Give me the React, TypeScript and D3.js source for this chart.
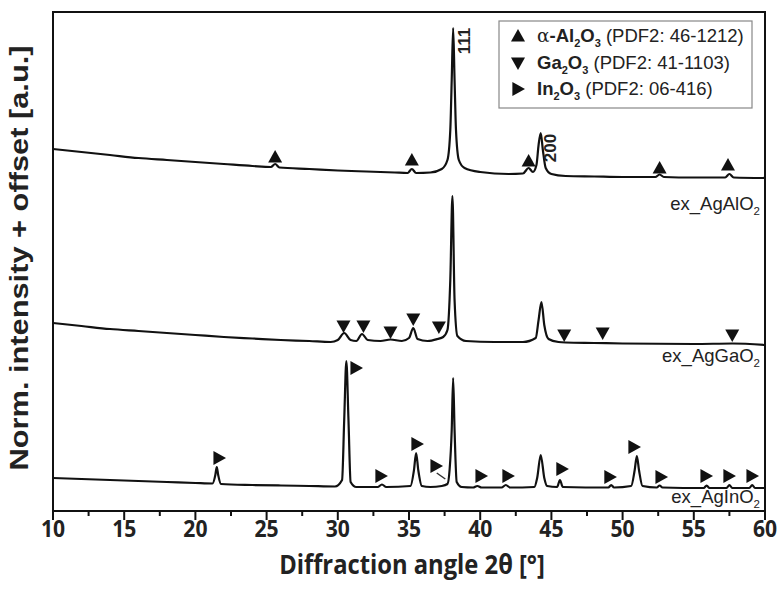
import React from "react";
import * as d3 from "d3";

// ---- data (angle in degrees 2θ, intensity + offset in arbitrary units) ----
const agAlO2: [number, number][] = [
  [10, 362], [12, 359], [14, 356], [16, 353], [18, 351], [20, 349], [22, 347], [24, 345],
  [25.3, 344], [25.6, 347], [25.9, 343.5], [28, 342], [30, 340.5], [32, 339.5], [34, 338.5],
  [34.9, 338], [35.2, 342], [35.5, 338], [36.5, 338.5], [37.3, 342], [37.7, 351], [37.9, 381],
  [38.0, 431], [38.1, 483], [38.2, 431], [38.3, 381], [38.5, 351], [38.9, 343], [40, 339],
  [42, 337], [43.0, 337.5], [43.4, 343], [43.7, 339], [43.95, 346], [44.1, 366], [44.25, 378],
  [44.4, 361], [44.6, 343], [45, 337], [46, 335], [48, 334.5], [50, 334], [52.3, 334],
  [52.6, 336.5], [52.9, 334], [55, 333.5], [57.2, 333.5], [57.5, 337], [57.8, 333.5], [60, 333],
];

const agGaO2: [number, number][] = [
  [10, 188], [12, 185], [14, 182], [16, 180], [18, 178], [20, 176], [22, 174], [24, 172.5],
  [26, 171], [28, 170], [29.5, 169], [30.0, 171], [30.45, 178], [30.9, 171], [31.3, 170],
  [31.7, 177], [32.1, 171], [33, 170], [33.7, 171.5], [34.5, 170], [35.0, 173], [35.3, 183],
  [35.6, 172], [36.3, 170], [37.0, 172], [37.4, 174], [37.7, 181], [37.9, 231], [38.05, 315],
  [38.2, 211], [38.4, 175], [39, 170], [41, 169], [43, 169], [43.9, 173], [44.1, 191],
  [44.3, 209], [44.5, 186], [44.8, 172], [45.5, 169], [46, 168.5], [48, 168], [50, 167.5],
  [55, 167], [57.7, 167.5], [60, 166],
];

const agInO2: [number, number][] = [
  [10, 33], [12, 32], [14, 31], [16, 30], [18, 29], [20, 28], [21.2, 27.5], [21.4, 36],
  [21.5, 44], [21.6, 36], [21.8, 27], [24, 26], [26, 25.5], [28, 25], [29.8, 24.5], [30.3, 31],
  [30.45, 91], [30.6, 150], [30.75, 91], [30.9, 29], [31.3, 24], [32.8, 24], [33.1, 26.5],
  [33.4, 24], [35.1, 25], [35.35, 41], [35.5, 58], [35.65, 41], [35.9, 25], [36.5, 24],
  [37.3, 25], [37.7, 27], [37.85, 41], [38.0, 81], [38.1, 133], [38.2, 81], [38.35, 29],
  [38.7, 24], [39.5, 23.5], [39.8, 25], [40.1, 23.5], [41.5, 23.5], [41.8, 26], [42.1, 23.5],
  [43.8, 24], [44.0, 33], [44.25, 56], [44.5, 33], [44.7, 25], [45.4, 24], [45.6, 31],
  [45.8, 24], [49.0, 23.5], [49.2, 26], [49.4, 23.5], [50.6, 25], [50.85, 41], [51.0, 55],
  [51.15, 41], [51.4, 25], [52.4, 23.5], [52.6, 25.5], [52.8, 23.5], [55.7, 23], [55.9, 25.5],
  [56.1, 23], [57.3, 23], [57.5, 26], [57.7, 23], [58.9, 23], [59.1, 26], [59.3, 23], [60, 23],
];

// reference markers: [angle, level]
const al2o3Marks: [number, number][] = [[25.6, 354], [35.2, 351], [43.4, 350], [52.6, 343], [57.4, 346]];
const ga2o3Marks: [number, number][] = [
  [30.4, 185], [31.8, 185], [33.7, 179], [35.3, 192], [37.1, 184], [45.9, 176], [48.6, 178], [57.7, 176],
];
const in2o3Marks: [number, number][] = [
  [21.66, 53], [31.28, 143], [33.03, 35], [35.56, 67], [36.9, 45], [40.06, 35], [41.95, 35],
  [45.74, 42], [49.11, 34], [50.8, 64], [52.7, 34], [55.86, 35], [57.47, 35], [59.09, 35],
];

const xTicks = [10, 15, 20, 25, 30, 35, 40, 45, 50, 55, 60];
const xMinorTicks = [12.5, 17.5, 22.5, 27.5, 32.5, 37.5, 42.5, 47.5, 52.5, 57.5];

const W = 780;
const H = 592;
const M = { left: 53, right: 765, top: 12, bottom: 511 };

export default function App() {
  const x = d3.scaleLinear().domain([10, 60]).range([M.left, M.right]);
  const y = d3.scaleLinear().domain([0, 499]).range([M.bottom, M.top]);
  const line = d3
    .line<[number, number]>()
    .x((d) => x(d[0]))
    .y((d) => y(d[1]))
    .curve(d3.curveMonotoneX);

  const tri = (cx: number, cy: number, dir: "up" | "down" | "right", s = 7) => {
    if (dir === "up") return `M${cx},${cy - s}L${cx + s},${cy + s * 0.8}L${cx - s},${cy + s * 0.8}Z`;
    if (dir === "down") return `M${cx},${cy + s}L${cx + s},${cy - s * 0.8}L${cx - s},${cy - s * 0.8}Z`;
    return `M${cx + s},${cy}L${cx - s * 0.8},${cy - s}L${cx - s * 0.8},${cy + s}Z`;
  };

  const sans = "'Liberation Sans', Arial, sans-serif";
  const txt = "#222";

  const sampleLabel = (name: string, yy: number) => (
    <text x={760} y={yy} textAnchor="end" fontFamily={sans} fontSize={18.5} fill={txt}>
      {name}
      <tspan fontSize={11.5} dy={4.5}>2</tspan>
    </text>
  );

  const legendRow = (a: string, b: string, yy: number, alpha: boolean) => (
    <text x={537} y={yy} fontFamily={sans} fontSize={18.5} fill={txt}>
      {alpha && <tspan fontFamily="'DejaVu Serif', 'Liberation Serif', serif" fontWeight="normal">α</tspan>}
      <tspan fontWeight="bold">{a}</tspan>
      <tspan fontWeight="bold" fontSize={11} dy={5}>2</tspan>
      <tspan fontWeight="bold" dy={-5}>O</tspan>
      <tspan fontWeight="bold" fontSize={11} dy={5}>3</tspan>
      <tspan dy={-5}>{` (PDF2: ${b})`}</tspan>
    </text>
  );

  return (
    <svg width={W} height={H} style={{ position: "absolute", left: 0, top: 0, background: "#fff" }}>
      <rect x={0} y={0} width={W} height={H} fill="#fff" />
      {/* traces */}
      {[agAlO2, agGaO2, agInO2].map((s, i) => (
        <path key={i} d={line(s) || ""} fill="none" stroke="#111" strokeWidth={2.2} strokeLinejoin="round" />
      ))}
      {/* markers */}
      {al2o3Marks.map((m, i) => (
        <path key={"a" + i} d={tri(x(m[0]), y(m[1]), "up")} fill="#111" />
      ))}
      {ga2o3Marks.map((m, i) => (
        <path key={"g" + i} d={tri(x(m[0]), y(m[1]), "down")} fill="#111" />
      ))}
      {in2o3Marks.map((m, i) => (
        <path key={"n" + i} d={tri(x(m[0]), y(m[1]), "right")} fill="#111" />
      ))}
      <line x1={x(36.95)} y1={y(38)} x2={x(37.55)} y2={y(32)} stroke="#333" strokeWidth={1.5} />

      {/* reflex labels */}
      <text transform={`translate(${x(39.25)},${y(470)}) rotate(-90)`} textAnchor="middle" fontFamily={sans} fontWeight="bold" fontSize={17} fill={txt}>111</text>
      <text transform={`translate(${x(45.35)},${y(363)}) rotate(-90)`} textAnchor="middle" fontFamily={sans} fontWeight="bold" fontSize={17} fill={txt}>200</text>

      {sampleLabel("ex_AgAlO", 210)}
      {sampleLabel("ex_AgGaO", 362)}
      {sampleLabel("ex_AgInO", 503)}

      {/* legend */}
      <rect x={499} y={21} width={253} height={87} fill="#fff" stroke="#888" strokeWidth={1.2} />
      <path d={tri(518, 36, "up")} fill="#111" />
      <path d={tri(518, 63, "down")} fill="#111" />
      <path d={tri(518, 89, "right")} fill="#111" />
      {legendRow("-Al", "46-1212", 42, true)}
      {legendRow("Ga", "41-1103", 69, false)}
      {legendRow("In", "06-416", 95, false)}

      {/* frame */}
      <rect x={M.left} y={M.top} width={M.right - M.left} height={M.bottom - M.top} fill="none" stroke="#111" strokeWidth={2} />
      {/* x ticks */}
      {xTicks.map((t) => (
        <g key={t}>
          <line x1={x(t)} x2={x(t)} y1={M.bottom} y2={M.bottom + 9} stroke="#111" strokeWidth={2} />
          <text transform={`translate(${x(t)},${M.bottom + 26}) scale(0.88,1)`} textAnchor="middle" fontFamily="'Open Sans', sans-serif" fontWeight="bold" fontSize={24} fill={txt}>
            {t}
          </text>
        </g>
      ))}
      {xMinorTicks.map((t) => (
        <line key={t} x1={x(t)} x2={x(t)} y1={M.bottom} y2={M.bottom + 5} stroke="#111" strokeWidth={2} />
      ))}
      <text transform={`translate(${(M.left + M.right) / 2 + 3},574) scale(0.88,1)`} textAnchor="middle" fontFamily="'Open Sans', sans-serif" fontWeight="bold" fontSize={27} fill={txt}>
        Diffraction angle 2θ [°]
      </text>
      <text transform={`translate(28,${258}) rotate(-90)`} textAnchor="middle" fontFamily={sans} fontWeight="bold" fontSize={25} textLength={425} lengthAdjust="spacingAndGlyphs" fill={txt}>
        Norm. intensity + offset [a.u.]
      </text>
    </svg>
  );
}
